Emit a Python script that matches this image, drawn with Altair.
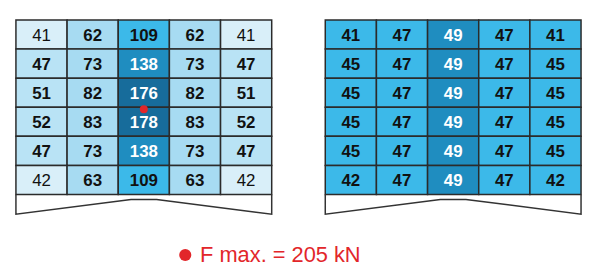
import altair as alt
import pandas as pd

# ---- data ----
left_values = [
    [41, 62, 109, 62, 41],
    [47, 73, 138, 73, 47],
    [51, 82, 176, 82, 51],
    [52, 83, 178, 83, 52],
    [47, 73, 138, 73, 47],
    [42, 63, 109, 63, 42],
]
right_values = [
    [41, 47, 49, 47, 41],
    [45, 47, 49, 47, 45],
    [45, 47, 49, 47, 45],
    [45, 47, 49, 47, 45],
    [45, 47, 49, 47, 45],
    [42, 47, 49, 47, 42],
]
max_label = "F max. = 205 kN"

# ---- layout / style (in column / row units) ----
OFFSETS = {"left": 0.0, "right": 6.047}
PALETTE = {
    "pale": "#d9eff9",
    "light": "#b9e3f5",
    "light2": "#a7dbf2",
    "mid": "#3cb9e9",
    "deep": "#1f8dc0",
    "darkest": "#176c9b",
}
RED = "#e2262a"


def level(grid, v):
    if grid == "left":
        if v < 45:
            return "pale"
        if v < 60:
            return "light"
        if v < 100:
            return "light2"
        if v < 120:
            return "mid"
        if v < 150:
            return "deep"
        return "darkest"
    return "mid" if v < 49 else "deep"


recs = []
for grid, vals in (("left", left_values), ("right", right_values)):
    off = OFFSETS[grid]
    for r, row in enumerate(vals):
        for c, v in enumerate(row):
            lv = level(grid, v)
            recs.append(dict(
                grid=grid, row=r, col=c, value=v,
                x=off + c, x2=off + c + 1, y=r, y2=r + 1,
                xc=off + c + 0.5, yc=r + 0.5,
                fill=PALETTE[lv],
                ink="#ffffff" if lv in ("deep", "darkest") else "#111111",
                bold=not (grid == "left" and v < 45),
            ))
cells = pd.DataFrame(recs)

# bottom outline of each grid
shape_u = [0, 0, 2.25, 2.75, 5, 5]
shape_v = [6, 6.68, 6.17, 6.17, 6.68, 6]
outline = pd.DataFrame([
    dict(grid=g, order=i, x=OFFSETS[g] + u, y=v)
    for g in OFFSETS for i, (u, v) in enumerate(zip(shape_u, shape_v))
])

marker = pd.DataFrame([dict(x=2.5, y=3.07)])
legend = pd.DataFrame([dict(x=3.31, y=8.08, tx=3.6, label=max_label)])

W, H = 580, 263
colw, rowh = 51.6, 29.33
umin = -8 / colw
umax = umin + W / colw
vmin = -11 / rowh
vmax = vmin + H / rowh

X = alt.Scale(domain=[umin, umax], nice=False, zero=False)
Y = alt.Scale(domain=[vmin, vmax], nice=False, zero=False, reverse=True)

base = alt.Chart(cells)

rects = base.mark_rect(stroke="#2b2b2b", strokeWidth=1.5).encode(
    x=alt.X("x:Q", scale=X, axis=None),
    x2="x2:Q",
    y=alt.Y("y:Q", scale=Y, axis=None),
    y2="y2:Q",
    fill=alt.Fill("fill:N", scale=None),
)

txt_enc = dict(
    x=alt.X("xc:Q", scale=X, axis=None),
    y=alt.Y("yc:Q", scale=Y, axis=None),
    text="value:N",
    color=alt.Color("ink:N", scale=None),
)
txt_bold = base.transform_filter("datum.bold").mark_text(
    font="Liberation Sans", fontSize=17, fontWeight="bold", baseline="middle", dy=1
).encode(**txt_enc)
txt_norm = base.transform_filter("!datum.bold").mark_text(
    font="Liberation Sans", fontSize=17, fontWeight="normal", baseline="middle", dy=1
).encode(**txt_enc)

lines = alt.Chart(outline).mark_line(color="#333333", strokeWidth=1.5).encode(
    x=alt.X("x:Q", scale=X, axis=None),
    y=alt.Y("y:Q", scale=Y, axis=None),
    detail="grid:N",
    order="order:Q",
)

dot = alt.Chart(marker).mark_point(filled=True, shape="circle", size=64, color=RED, opacity=1).encode(
    x=alt.X("x:Q", scale=X, axis=None),
    y=alt.Y("y:Q", scale=Y, axis=None),
)

leg_dot = alt.Chart(legend).mark_point(filled=True, shape="circle", size=150, color=RED, opacity=1).encode(
    x=alt.X("x:Q", scale=X, axis=None),
    y=alt.Y("y:Q", scale=Y, axis=None),
)
leg_txt = alt.Chart(legend).mark_text(
    font="Liberation Sans", fontSize=22, color=RED, align="left", baseline="middle"
).encode(
    x=alt.X("tx:Q", scale=X, axis=None),
    y=alt.Y("y:Q", scale=Y, axis=None),
    text="label:N",
)

chart = alt.layer(rects, txt_bold, txt_norm, lines, dot, leg_dot, leg_txt).properties(
    width=W, height=H, padding=0,
    autosize=alt.AutoSizeParams(type="none"),
    background="white",
).configure_view(stroke=None)

chart.save("out.html", embed_options={"renderer": "svg", "actions": False})
